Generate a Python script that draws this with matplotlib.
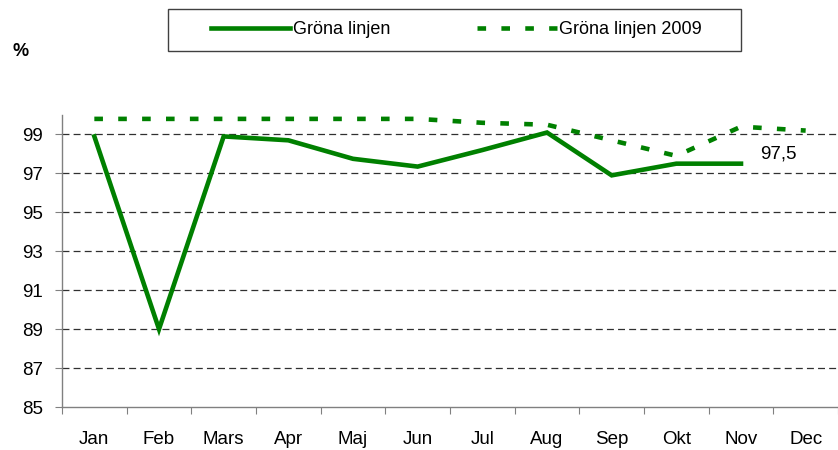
import matplotlib
matplotlib.use("Agg")
import matplotlib.pyplot as plt
from matplotlib.patches import Rectangle
from matplotlib.lines import Line2D

plt.rcParams['font.family'] = ['Liberation Sans', 'DejaVu Sans']
plt.rcParams['lines.scale_dashes'] = False

months = ["Jan", "Feb", "Mars", "Apr", "Maj", "Jun", "Jul", "Aug", "Sep", "Okt", "Nov", "Dec"]
grona_linjen = [98.9, 89.0, 98.9, 98.7, 97.75, 97.35, 98.2, 99.1, 96.9, 97.5, 97.5]
grona_linjen_2009 = [99.8, 99.8, 99.8, 99.8, 99.8, 99.8, 99.6, 99.5, 98.7, 97.9, 99.4, 99.2]
yticks = [85, 87, 89, 91, 93, 95, 97, 99]
last_label = "97,5"
green = "#008000"

W, H = 838, 450
fig = plt.figure(figsize=(W / 100, H / 100), dpi=100)
ax = fig.add_axes([62 / W, (H - 407) / H, 776 / W, 292 / H])

x1 = list(range(len(grona_linjen)))
x2 = list(range(len(grona_linjen_2009)))
ax.plot(x2, grona_linjen_2009, color=green, lw=3.3, linestyle=(0, (6.2, 11.0)),
        dash_capstyle='butt', solid_capstyle='butt', zorder=3)
ax.plot(x1, grona_linjen, color=green, lw=3.3, solid_joinstyle='miter', zorder=4)

ax.annotate(last_label, (x1[-1], grona_linjen[-1]), xytext=(14, 7), textcoords='offset points',
            ha='left', va='center', fontsize=13.5)

ax.set_ylim(85, 100)
ax.set_xlim(-0.5, 776 / 65.33 - 0.5)
ax.set_yticks(yticks)
ax.set_yticklabels([str(v) for v in yticks], fontsize=13.5)
for v in yticks[1:]:
    ax.axhline(v, color='#303030', lw=0.9, linestyle=(0, (5.0, 3.0)), zorder=1)

ax.set_xticks(range(len(months)))
ax.set_xticklabels(months, fontsize=13.5)
ax.set_xticks([i - 0.5 for i in range(len(months) + 1)], minor=True)
ax.tick_params(axis='x', which='major', length=0, pad=17)
ax.tick_params(axis='x', which='minor', length=5, width=0.8, color='#808080', direction='out')
ax.tick_params(axis='y', length=5, width=0.8, color='#808080', direction='out', pad=8.5)

for s in ['top', 'right']:
    ax.spines[s].set_visible(False)
for s in ['left', 'bottom']:
    ax.spines[s].set_color('#808080')
    ax.spines[s].set_linewidth(1.0)

fig.text(21 / W, 1 - 52 / H, "%", fontsize=13, fontweight='bold', ha='center', va='center')

handles = [Line2D([], [], color=green, lw=3.3),
           Line2D([], [], color=green, lw=3.3, linestyle=(0, (6.2, 11.0)), dash_capstyle='butt')]
leg = fig.legend(handles, ["Gröna linjen", "Gröna linjen 2009"], loc='center left',
                 bbox_to_anchor=(211 / W, 1 - 30 / H), ncol=2, frameon=False, fontsize=13,
                 handlelength=4.4, handletextpad=0.15, columnspacing=4.8, borderpad=0,
                 borderaxespad=0)
fig.add_artist(Rectangle((168 / W, 1 - 51 / H), 573 / W, 42 / H, transform=fig.transFigure,
                         fill=False, edgecolor='#404040', lw=1.0))

fig.savefig("out.png", dpi=100)
